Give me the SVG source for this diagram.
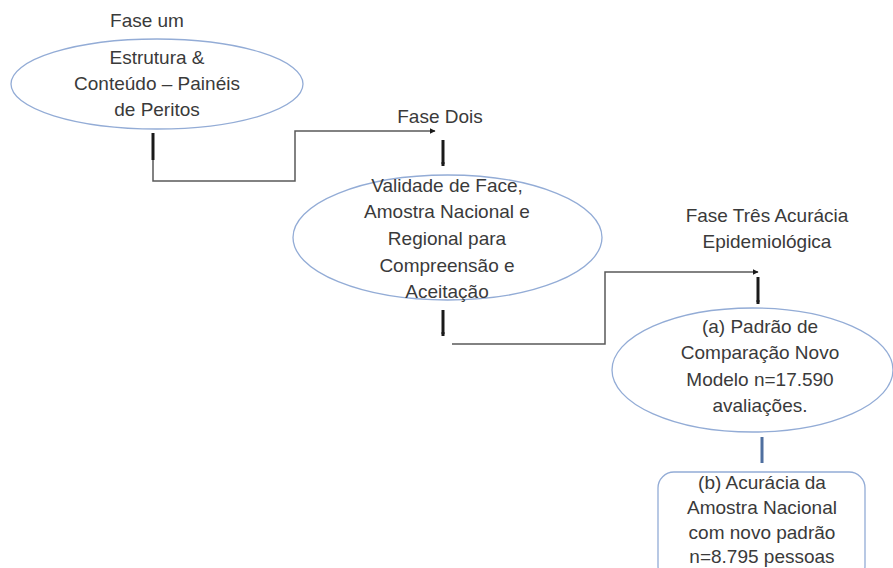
<svg xmlns="http://www.w3.org/2000/svg" width="893" height="568" viewBox="0 0 893 568">
<defs>
<style>
text{font-family:"Liberation Sans",Arial,sans-serif;font-size:19px;fill:#3a3a3a;text-anchor:middle}
.node{fill:#fff;stroke:#93acd6;stroke-width:1.3}
.thin{fill:none;stroke:#595959;stroke-width:1.5}
.thick{fill:none;stroke:#1a1a1a;stroke-width:3}
.blue{fill:none;stroke:#4f6f9f;stroke-width:3}
</style>
<marker id="ah" viewBox="0 0 10 10" refX="9" refY="5" markerWidth="6" markerHeight="6" orient="auto" markerUnits="userSpaceOnUse">
<path d="M0,0 L10,5 L0,10 z" fill="#1a1a1a"/>
</marker>
<marker id="ahs" viewBox="0 0 10 10" refX="9" refY="5" markerWidth="4" markerHeight="4" orient="auto" markerUnits="userSpaceOnUse">
<path d="M0,0 L10,5 L0,10 z" fill="#1a1a1a"/>
</marker>
</defs>
<rect width="893" height="568" fill="#fff"/>
<g id="connectors">
<line class="thick" x1="153" y1="133" x2="153" y2="160"/>
<path class="thin" d="M153,160 V181 H295 V131 H435" marker-end="url(#ah)"/>
<line class="thick" x1="443" y1="140" x2="443" y2="166" marker-end="url(#ahs)"/>
<line class="thick" x1="443" y1="310" x2="443" y2="336" marker-end="url(#ahs)"/>
<path class="thin" d="M452,344 H605 V272 H758" marker-end="url(#ah)"/>
<line class="thick" x1="758" y1="277" x2="758" y2="304" marker-end="url(#ahs)"/>
<line class="blue" x1="762" y1="437" x2="762" y2="463"/>
</g>
<g id="label-fase-um"><text x="147" y="27">Fase um</text></g>
<g id="node-fase-um">
<ellipse class="node" cx="157" cy="84" rx="146" ry="45"/>
<text x="157" y="64">Estrutura &amp;</text>
<text x="157" y="90">Conteúdo – Painéis</text>
<text x="157" y="116">de Peritos</text>
</g>
<g id="label-fase-dois"><text x="440" y="123">Fase Dois</text></g>
<g id="node-fase-dois">
<ellipse class="node" cx="447.5" cy="237.5" rx="154.5" ry="62.5"/>
<text x="447" y="192">Validade de Face,</text>
<text x="447" y="218">Amostra Nacional e</text>
<text x="447" y="245">Regional para</text>
<text x="447" y="272">Compreensão e</text>
<text x="447" y="298">Aceitação</text>
</g>
<g id="label-fase-tres">
<text x="767" y="222">Fase Três Acurácia</text>
<text x="767" y="248">Epidemiológica</text>
</g>
<g id="node-a">
<ellipse class="node" cx="752.5" cy="370" rx="140.5" ry="62"/>
<text x="760" y="333">(a) Padrão de</text>
<text x="760" y="359">Comparação Novo</text>
<text x="760" y="386">Modelo n=17.590</text>
<text x="760" y="412">avaliações.</text>
</g>
<g id="node-b">
<rect class="node" x="658" y="472" width="207" height="110" rx="16" ry="16"/>
<text x="762" y="489">(b) Acurácia da</text>
<text x="762" y="514">Amostra Nacional</text>
<text x="762" y="539">com novo padrão</text>
<text x="762" y="563">n=8.795 pessoas</text>
</g>
</svg>
